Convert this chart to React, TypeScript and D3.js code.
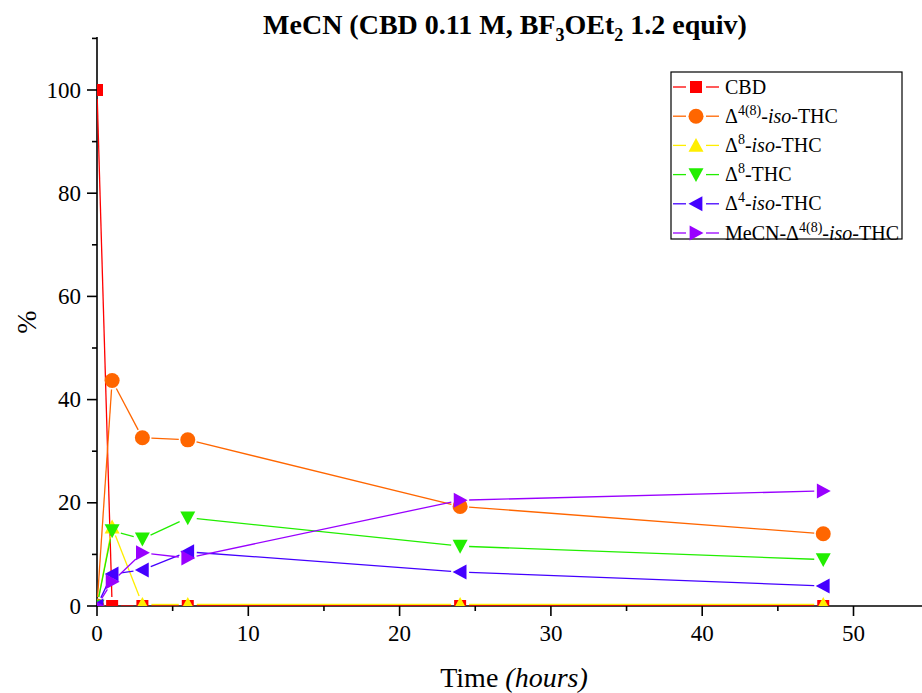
import React from 'react';
import * as d3 from 'd3';

// sampling times (hours)
const times = [0, 1, 3, 6, 24, 48];

// % of each compound at each time
const cbd = [100, 0, 0, 0, 0, 0];
const iso48 = [0, 43.7, 32.6, 32.2, 19.3, 14.0];
const iso8 = [0, 15.3, 0.3, 0.3, 0.3, 0.3];
const thc8 = [0, 14.6, 13.0, 17.1, 11.6, 9.0];
const iso4 = [0, 6.2, 7.0, 10.5, 6.6, 3.9];
const mecn = [0, 4.7, 10.3, 9.3, 20.5, 22.3];

const xTicks = [0, 10, 20, 30, 40, 50];
const xMinor = [5, 15, 25, 35, 45];
const yTicks = [0, 20, 40, 60, 80, 100];
const yMinor = [10, 30, 50, 70, 90, 110];

type Shape = 'square' | 'circle' | 'up' | 'down' | 'left' | 'right';
const series: { name: string; values: number[]; color: string; shape: Shape }[] = [
  { name: 'CBD', values: cbd, color: '#ff0000', shape: 'square' },
  { name: 'iso48', values: iso48, color: '#ff6600', shape: 'circle' },
  { name: 'iso8', values: iso8, color: '#ffee00', shape: 'up' },
  { name: 'thc8', values: thc8, color: '#22ee00', shape: 'down' },
  { name: 'iso4', values: iso4, color: '#4400ff', shape: 'left' },
  { name: 'mecn', values: mecn, color: '#9900ff', shape: 'right' },
];

const W = 922;
const H = 693;
const left = 97;
const bottom = 606;
const top = 37;
const font = '"Liberation Serif", "Times New Roman", serif';

const x = d3.scaleLinear().domain([0, 55]).range([left, left + 55 * 15.13]);
const y = d3.scaleLinear().domain([0, 110]).range([bottom, bottom - 110 * 5.16]);

function marker(shape: Shape, cx: number, cy: number, color: string, key: string) {
  const s = 7.5;
  if (shape === 'square') return <rect key={key} x={cx - 6} y={cy - 6} width={12} height={12} fill={color} />;
  if (shape === 'circle') return <circle key={key} cx={cx} cy={cy} r={7.5} fill={color} />;
  let pts: number[][] = [];
  if (shape === 'up') pts = [[0, -s], [s, s * 0.85], [-s, s * 0.85]];
  if (shape === 'down') pts = [[0, s], [s, -s * 0.85], [-s, -s * 0.85]];
  if (shape === 'left') pts = [[-s, 0], [s * 0.85, -s], [s * 0.85, s]];
  if (shape === 'right') pts = [[s, 0], [-s * 0.85, -s], [-s * 0.85, s]];
  return <polygon key={key} points={pts.map(p => `${cx + p[0]},${cy + p[1]}`).join(' ')} fill={color} />;
}

// line segments stop short of the markers, like the original plot
function segments(vals: number[], color: string, gap: number, key: string) {
  const out: JSX.Element[] = [];
  for (let i = 0; i < vals.length - 1; i++) {
    const x1 = x(times[i]), y1 = y(vals[i]);
    const x2 = x(times[i + 1]), y2 = y(vals[i + 1]);
    const d = Math.hypot(x2 - x1, y2 - y1);
    if (d <= gap * 2) continue;
    const ux = (x2 - x1) / d, uy = (y2 - y1) / d;
    out.push(
      <line key={key + i} x1={x1 + ux * gap} y1={y1 + uy * gap} x2={x2 - ux * gap} y2={y2 - uy * gap}
        stroke={color} strokeWidth={1.3} />
    );
  }
  return out;
}

const sup = (t: string) => <tspan dy={-8} fontSize={14}>{t}</tspan>;

const legendLabels = [
  <>CBD</>,
  <>Δ{sup('4(8)')}<tspan dy={8}>-</tspan><tspan fontStyle="italic">iso</tspan>-THC</>,
  <>Δ{sup('8')}<tspan dy={8}>-</tspan><tspan fontStyle="italic">iso</tspan>-THC</>,
  <>Δ{sup('8')}<tspan dy={8}>-THC</tspan></>,
  <>Δ{sup('4')}<tspan dy={8}>-</tspan><tspan fontStyle="italic">iso</tspan>-THC</>,
  <>MeCN-Δ{sup('4(8)')}<tspan dy={8}>-</tspan><tspan fontStyle="italic">iso</tspan>-THC</>,
];

export default function App() {
  return (
    <svg width={W} height={H} style={{ position: 'absolute', left: 0, top: 0, background: '#fff' }} fontFamily={font}>
      <defs>
        <clipPath id="plot">
          <rect x={left} y={top} width={W - left} height={bottom - top} />
        </clipPath>
      </defs>

      {/* title */}
      <text x={505} y={34} textAnchor="middle" fontSize={28} fontWeight="bold">
        MeCN (CBD 0.11 M, BF<tspan dy={7} fontSize={18}>3</tspan>
        <tspan dy={-7}>OEt</tspan><tspan dy={7} fontSize={18}>2</tspan>
        <tspan dy={-7}> 1.2 equiv)</tspan>
      </text>

      {/* axes */}
      <line x1={left} y1={bottom} x2={W} y2={bottom} stroke="#000" strokeWidth={1.6} />
      <line x1={left} y1={top} x2={left} y2={bottom} stroke="#000" strokeWidth={1.6} />
      {xTicks.map(t => (
        <g key={'xt' + t}>
          <line x1={x(t)} x2={x(t)} y1={bottom} y2={bottom + 10} stroke="#000" strokeWidth={1.6} />
          <text x={x(t)} y={641} textAnchor="middle" fontSize={23}>{t}</text>
        </g>
      ))}
      {xMinor.map(t => (
        <line key={'xm' + t} x1={x(t)} x2={x(t)} y1={bottom} y2={bottom + 5} stroke="#000" strokeWidth={1.6} />
      ))}
      {yTicks.map(t => (
        <g key={'yt' + t}>
          <line x1={left - 10} x2={left} y1={y(t)} y2={y(t)} stroke="#000" strokeWidth={1.6} />
          <text x={81} y={y(t) + 7.5} textAnchor="end" fontSize={23}>{t}</text>
        </g>
      ))}
      {yMinor.map(t => (
        <line key={'ym' + t} x1={left - 5} x2={left} y1={y(t)} y2={y(t)} stroke="#000" strokeWidth={1.6} />
      ))}

      {/* data, drawn over the axes */}
      <g clipPath="url(#plot)">
        {series.map(s => (
          <g key={s.name}>
            {segments(s.values, s.color, 9, s.name)}
            {s.values.map((v, i) => marker(s.shape, x(times[i]), y(v), s.color, s.name + 'm' + i))}
          </g>
        ))}
      </g>

      <text x={514} y={687} textAnchor="middle" fontSize={28}>
        Time <tspan fontStyle="italic">(hours)</tspan>
      </text>
      <text transform="translate(36,322) rotate(-90)" textAnchor="middle" fontSize={28}>%</text>

      {/* legend */}
      <rect x={671} y={72} width={231} height={167} fill="#fff" stroke="#000" strokeWidth={1.2} />
      {series.map((s, i) => {
        const ry = 87 + i * 29.2;
        return (
          <g key={'lg' + s.name}>
            <line x1={673} x2={686} y1={ry} y2={ry} stroke={s.color} strokeWidth={1.3} />
            <line x1={706} x2={719} y1={ry} y2={ry} stroke={s.color} strokeWidth={1.3} />
            {marker(s.shape, 696, ry, s.color, 'lm' + i)}
            <text x={725} y={ry + 6.5} fontSize={20}>{legendLabels[i]}</text>
          </g>
        );
      })}
    </svg>
  );
}
